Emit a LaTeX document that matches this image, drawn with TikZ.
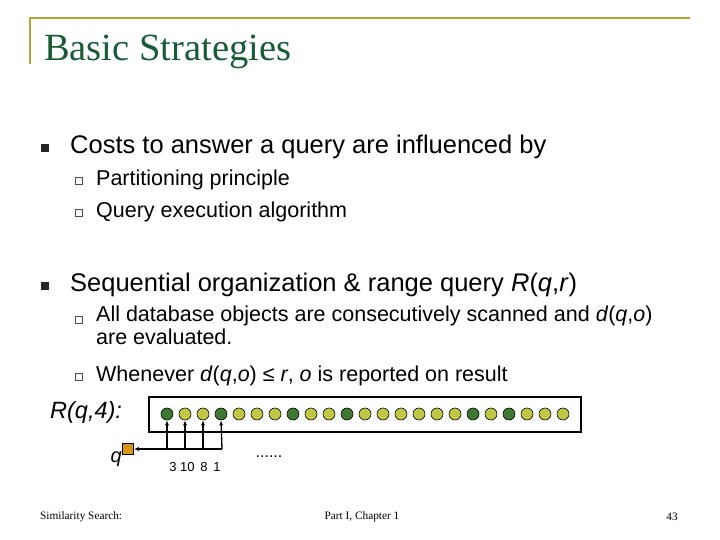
\documentclass[tikz,border=0pt]{standalone}
\usepackage{fontspec}
\usetikzlibrary{arrows.meta}
\setmainfont{Liberation Sans}
\newfontfamily\seriffont{Liberation Serif}
\definecolor{gold}{RGB}{184,160,60}
\definecolor{ttl}{RGB}{25,90,55}
\definecolor{lg}{RGB}{190,200,70}
\definecolor{dg}{RGB}{60,120,50}
\definecolor{qc}{RGB}{215,150,20}
\begin{document}
\begin{tikzpicture}[x=1pt,y=-1pt,
  txt/.style={anchor=west,inner sep=0,font=\fontsize{25.5}{30}\selectfont},
  sub/.style={anchor=west,inner sep=0,font=\fontsize{21.5}{25}\selectfont,align=left},
  bul/.style={fill=black!85,minimum size=8pt,inner sep=0},
  sbul/.style={draw=black!70,minimum size=6.5pt,inner sep=0,line width=0.7pt},
  obj/.style={circle,draw=black,line width=0.6pt,minimum size=12pt,inner sep=0},
  arr/.style={-{Latex[length=5pt,width=4pt]},line width=1.3pt},
  foot/.style={inner sep=0,font=\seriffont\fontsize{11.3}{13}\selectfont}]
\useasboundingbox (0,0) rectangle (720,540);
\draw[gold,line width=1.5pt] (30,64) -- (30,18) -- (690,18);
\node[anchor=west,inner sep=0,text=ttl,font=\seriffont\fontsize{38.5}{42}\selectfont] (title) at (44,52) {Basic Strategies};
\node[bul] (b1) at (45,148) {};
\node[txt] (t1) at (70,147) {Costs to answer a query are influenced by};
\node[sbul] (s1) at (79,181) {};
\node[sub] (u1) at (96,180) {Partitioning principle};
\node[sbul] (s2) at (79,213) {};
\node[sub] (u2) at (96,212) {Query execution algorithm};
\node[bul] (b2) at (45,286) {};
\node[txt] (t2) at (70,285) {Sequential organization \& range query \textit{R}(\textit{q},\textit{r})};
\node[sbul] (s3) at (79,320) {};
\node[sub,anchor=north west] (u3) at (96,306) {All database objects are consecutively scanned and \textit{d}(\textit{q},\textit{o})\\[-2pt]are evaluated.};
\node[sbul] (s4) at (79,377) {};
\node[sub] (u4) at (96,376) {Whenever \textit{d}(\textit{q},\textit{o}) ≤ \textit{r}, \textit{o} is reported on result};
\node[anchor=west,inner sep=0,font=\fontsize{23.5}{26}\selectfont\itshape] (rq) at (50,412) {R(q,4):};
\draw[line width=1.5pt] (149,397) rectangle (581,432);
\foreach \i in {0,...,22}{
  \pgfmathtruncatemacro{\d}{(\i==0)||(\i==3)||(\i==7)||(\i==10)||(\i==17)||(\i==19)}
  \ifnum\d=1 \node[obj,fill=dg] (c\i) at (167+18*\i,414) {};
  \else \node[obj,fill=lg] (c\i) at (167+18*\i,414) {}; \fi}
\node[draw=black,fill=qc,minimum size=11pt,inner sep=0,line width=0.6pt] (q) at (128,449) {};
\node[anchor=north east,inner sep=0,font=\fontsize{20}{22}\selectfont\itshape] (ql) at (122,452) {q};
\coordinate (j) at (222,449);
\foreach \k/\x in {0/167,1/185,2/203,3/222}{
  \coordinate (a\k) at (\x,449);
  \draw[arr] (a\k) -- (c\k.south);}
\draw[arr] (j) -- (q.east);
\node[inner sep=0,font=\fontsize{13}{15}\selectfont] (nums) at (195,467) {3 10\, 8\, 1};
\node[inner sep=0,font=\fontsize{16}{18}\selectfont] (dots) at (269,457) {......};
\node[foot,anchor=west] (f1) at (40,517) {Similarity Search:};
\node[foot] (f2) at (362,517) {Part I, Chapter 1};
\node[foot] (f3) at (672,517) {43};
\end{tikzpicture}
\end{document}
